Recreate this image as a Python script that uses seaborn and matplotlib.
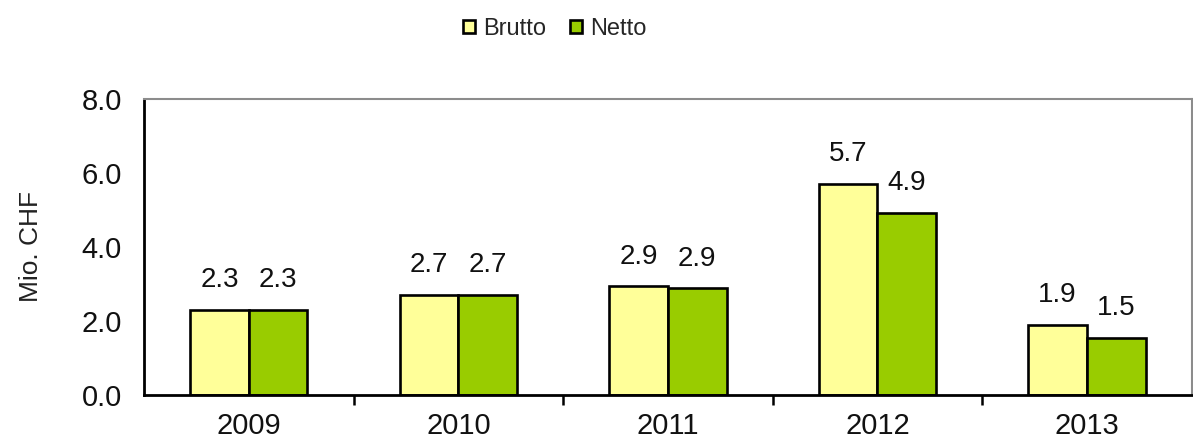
import seaborn as sns
import matplotlib.pyplot as plt
import pandas as pd
from matplotlib.ticker import FormatStrFormatter, FixedLocator

# values (Mio. CHF)
years = ["2009", "2010", "2011", "2012", "2013"]
brutto = [2.3, 2.7, 2.94, 5.7, 1.9]
netto = [2.3, 2.7, 2.88, 4.93, 1.54]
series = ["Brutto", "Netto"]
colors = {"Brutto": "#FFFF99", "Netto": "#99CC00"}

df = pd.DataFrame({
    "year": years * 2,
    "value": brutto + netto,
    "kind": ["Brutto"] * len(years) + ["Netto"] * len(years),
})

sns.set_style("white")
plt.rcParams["font.family"] = ["Liberation Sans", "DejaVu Sans"]

fig = plt.figure(figsize=(11.93, 4.45), dpi=100)
ax = fig.add_axes([0.1207, 0.1124, 0.8783, 0.6651])

sns.barplot(data=df, x="year", y="value", hue="kind", hue_order=series,
            palette=colors, width=0.56, gap=0, edgecolor="black",
            linewidth=1.9, saturation=1, ax=ax)

# value labels above bars
for cont in ax.containers:
    ax.bar_label(cont, fmt="%.1f", padding=12, fontsize=20, color="#111111")

ax.set_ylim(0, 8)
ax.set_yticks([0, 2, 4, 6, 8])
ax.yaxis.set_major_formatter(FormatStrFormatter("%.1f"))
ax.set_xlim(-0.5, len(years) - 0.5)
ax.set_xlabel("")
ax.set_ylabel("Mio. CHF", fontsize=19, labelpad=28, color="#222222")

ax.tick_params(axis="y", length=0, labelsize=21, pad=16, labelcolor="#111111")
ax.tick_params(axis="x", which="major", length=0, labelsize=21, pad=12,
               labelcolor="#111111")
ax.xaxis.set_minor_locator(FixedLocator([i + 0.5 for i in range(len(years) - 1)]))
ax.tick_params(axis="x", which="minor", direction="out", length=7, width=1.8,
               color="black", bottom=True)

for side in ["left", "bottom"]:
    ax.spines[side].set_color("black")
    ax.spines[side].set_linewidth(2)
for side in ["top", "right"]:
    ax.spines[side].set_color("#8c8c8c")
    ax.spines[side].set_linewidth(1.5)

handles, labels = ax.get_legend_handles_labels()
ax.legend_.remove()
fig.legend(handles, labels, loc="center", bbox_to_anchor=(0.465, 0.935),
           ncol=2, frameon=False, fontsize=17, handlelength=0.5,
           handleheight=0.5, handletextpad=0.35, columnspacing=1.0)

fig.savefig("out.png", dpi=100)
